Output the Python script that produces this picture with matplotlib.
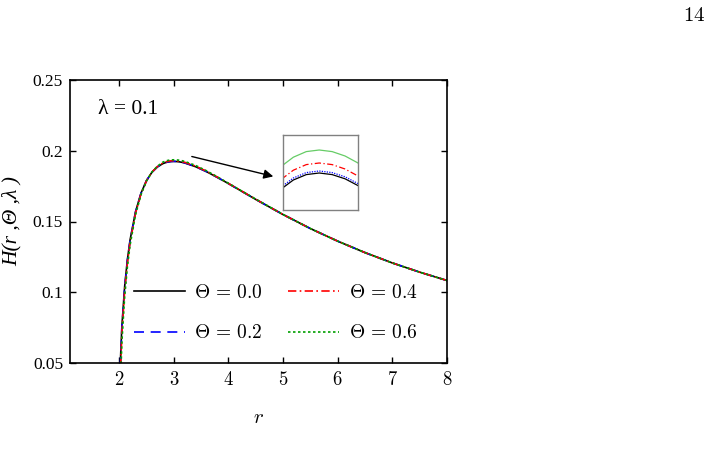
import matplotlib
matplotlib.use("Agg")
import matplotlib.pyplot as plt

r = [2.0, 2.02, 2.05, 2.1, 2.15, 2.2, 2.3, 2.4, 2.5, 2.6, 2.7, 2.8, 2.85, 2.9, 2.95,
     3.0, 3.05, 3.1, 3.15, 3.2, 3.4, 3.6, 3.8, 4.0, 4.5, 5.0, 5.5, 6.0, 6.5, 7.0, 7.5, 8.0]

H_00 = [0.0, 0.0493, 0.0762, 0.1039, 0.1229, 0.1371, 0.1570, 0.1701, 0.1789, 0.1848, 0.1886,
        0.19090, 0.19162, 0.19210, 0.19237, 0.19245, 0.19237, 0.19216, 0.19182, 0.19137,
        0.1887, 0.1852, 0.1811, 0.1768, 0.1656, 0.1549, 0.1450, 0.1361, 0.1280, 0.1207, 0.1142, 0.1083]
H_02 = [0.0, 0.0470, 0.0748, 0.1030, 0.1222, 0.1366, 0.1567, 0.1700, 0.1789, 0.1848, 0.1886,
        0.19100, 0.19172, 0.19220, 0.19247, 0.19255, 0.19247, 0.19226, 0.19192, 0.19147,
        0.1888, 0.1852, 0.1811, 0.1768, 0.1656, 0.1549, 0.1450, 0.1361, 0.1280, 0.1207, 0.1142, 0.1083]
H_04 = [0.0, 0.0415, 0.0712, 0.1008, 0.1206, 0.1354, 0.1560, 0.1696, 0.1788, 0.1849, 0.1888,
        0.19135, 0.19210, 0.19259, 0.19287, 0.19295, 0.19287, 0.19265, 0.19230, 0.19185,
        0.1891, 0.1855, 0.1813, 0.1769, 0.1657, 0.1549, 0.1450, 0.1361, 0.1280, 0.1207, 0.1142, 0.1083]
H_06 = [0.0, 0.0320, 0.0650, 0.0968, 0.1178, 0.1334, 0.1548, 0.1690, 0.1786, 0.1850, 0.1891,
        0.19195, 0.19275, 0.19324, 0.19352, 0.19360, 0.19352, 0.19330, 0.19295, 0.19247,
        0.1896, 0.1858, 0.1815, 0.1770, 0.1658, 0.1550, 0.1450, 0.1361, 0.1280, 0.1207, 0.1142, 0.1083]

labels = [r"$\Theta\,=\,0.0$", r"$\Theta\,=\,0.2$", r"$\Theta\,=\,0.4$", r"$\Theta\,=\,0.6$"]
series = [H_00, H_02, H_04, H_06]
colors = ["black", "#0000ff", "#ff0000", "#00a000"]
styles = ["-", (0, (6, 4)), (0, (5, 2, 1, 2)), (0, (1.5, 1.5))]
inset_colors = ["black", "#0000ff", "#ff0000", "#66cc66"]
inset_styles = ["-", (0, (1, 1)), (0, (5, 2, 1, 2)), "-"]

x_ticks = [2, 3, 4, 5, 6, 7, 8]
y_ticks = [0.05, 0.1, 0.15, 0.2, 0.25]
y_ticklabels = ["0.05", "0.1", "0.15", "0.2", "0.25"]

plt.rcParams["mathtext.fontset"] = "cm"
serif = "Liberation Serif"

fig = plt.figure(figsize=(7.11, 4.72), dpi=100)
ax = fig.add_axes([70 / 711, 1 - 363 / 472, 377 / 711, 283 / 472])

for H, lab, c, ls in zip(series, labels, colors, styles):
    ax.plot(r, H, color=c, linestyle=ls, linewidth=1.2, label=lab)

ax.set_xlim(1.1, 8)
ax.set_ylim(0.05, 0.25)
ax.set_xticks(x_ticks)
ax.set_xticklabels([f"${t}$" for t in x_ticks], fontsize=13.5)
ax.set_yticks(y_ticks)
ax.set_yticklabels(y_ticklabels, fontsize=12.5, family=serif)
ax.tick_params(direction="in", top=True, right=True, length=4, width=1, pad=5)
for s in ax.spines.values():
    s.set_linewidth(1.2)

ax.set_xlabel(r"$r$", fontsize=15, labelpad=13)
ax.set_ylabel("H(r ,Θ ,λ )", fontsize=15.5, family=serif, style="italic", labelpad=8)

ax.text(1.62, 0.229, "λ = 0.1", fontsize=15.5, family=serif, va="center", ha="left")

leg = ax.legend(ncol=2, loc="center", bbox_to_anchor=(0.546, 0.178), frameon=False,
                fontsize=14, handlelength=2.6, handletextpad=0.5, columnspacing=1.3,
                labelspacing=1.1)

ax.annotate("", xy=(4.87, 0.1814), xytext=(3.28, 0.1964),
            arrowprops=dict(arrowstyle="-|>", color="black", lw=1.0, mutation_scale=14))

ins = fig.add_axes([283 / 711, 1 - 210 / 472, 75 / 711, 75 / 472])
for H, c, ls in zip(series, inset_colors, inset_styles):
    ins.plot(r, H, color=c, linestyle=ls, linewidth=0.9)
ins.set_xlim(2.86, 3.15)
ins.set_ylim(0.1906, 0.19435)
ins.set_xticks([])
ins.set_yticks([])
for s in ins.spines.values():
    s.set_edgecolor("#808080")
    s.set_linewidth(1.0)

fig.text(705 / 711, 1 - 15 / 472, r"$14$", fontsize=15, ha="right", va="center")

fig.savefig("out.png", dpi=100)
